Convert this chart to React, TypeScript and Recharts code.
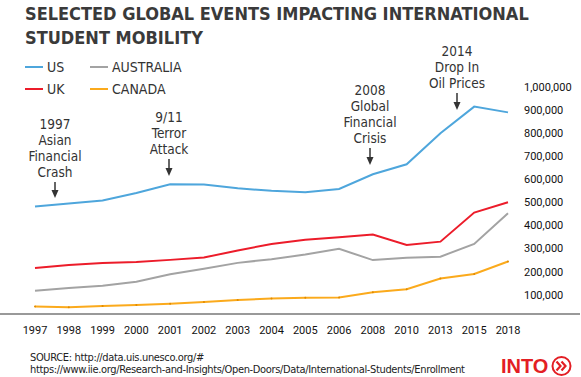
import React from "react";
import { LineChart, Line, XAxis, YAxis, Legend } from "recharts";

const years = ["1997", "1998", "1999", "2000", "2001", "2002", "2003", "2004", "2005", "2006", "2008", "2010", "2013", "2015", "2018"];
const usValues = [482000, 495000, 508000, 541000, 579000, 578000, 561000, 550000, 544000, 558000, 622000, 665000, 800000, 915000, 890000];
const ukValues = [216000, 229000, 237000, 242000, 251000, 261000, 292000, 320000, 338000, 349000, 361000, 316000, 330000, 456000, 501000];
const australiaValues = [117000, 129000, 139000, 156000, 189000, 213000, 238000, 254000, 274000, 299000, 250000, 260000, 265000, 320000, 453000];
const canadaValues = [49000, 46000, 51000, 55000, 61000, 68000, 77000, 84000, 87000, 88000, 111000, 124000, 170000, 190000, 244000];
const yTicks = [100000, 200000, 300000, 400000, 500000, 600000, 700000, 800000, 900000, 1000000];

const data = years.map((year, i) => ({
  year,
  us: usValues[i],
  uk: ukValues[i],
  australia: australiaValues[i],
  canada: canadaValues[i],
}));

const series = [
  { key: "us", name: "US", color: "#4ea6dc" },
  { key: "uk", name: "UK", color: "#ec1c2a" },
  { key: "australia", name: "AUSTRALIA", color: "#a3a3a3" },
  { key: "canada", name: "CANADA", color: "#fbaa1c" },
];

const events = [
  { lines: ["1997", "Asian", "Financial", "Crash"], x: 55, top: 124, arrowTop: 182, arrowBottom: 198 },
  { lines: ["9/11", "Terror", "Attack"], x: 169, top: 117, arrowTop: 159, arrowBottom: 176 },
  { lines: ["2008", "Global", "Financial", "Crisis"], x: 370, top: 90, arrowTop: 148, arrowBottom: 165 },
  { lines: ["2014", "Drop In", "Oil Prices"], x: 457, top: 51, arrowTop: 93, arrowBottom: 110 },
];

const NARROW = "'DejaVu Sans Condensed', 'DejaVu Sans', sans-serif";
const TEXT = "#333333";

function LegendBox({ payload }: any) {
  const items = series.map((s) => (payload || []).find((p: any) => p.value === s.name) || { value: s.name, color: s.color });
  return (
    <div
      style={{
        display: "grid",
        gridTemplateRows: "22px 22px",
        gridAutoFlow: "column",
        gridAutoColumns: "65px",
        fontFamily: NARROW,
        fontSize: 14,
        color: TEXT,
        whiteSpace: "nowrap",
      }}
    >
      {items.map((p: any) => (
        <div key={p.value} style={{ display: "flex", alignItems: "center" }}>
          <span style={{ width: 18, height: 2.5, flexShrink: 0, background: p.color, marginRight: 4 }} />
          <span>{p.value}</span>
        </div>
      ))}
    </div>
  );
}

function EventNotes() {
  return (
    <svg width={581} height={377} style={{ position: "absolute", left: 0, top: 0, pointerEvents: "none" }}>
      {events.map((e) => (
        <g key={e.lines[0]}>
          {e.lines.map((t, i) => (
            <text
              key={t}
              x={e.x}
              y={e.top + i * 16}
              textAnchor="middle"
              dominantBaseline="central"
              fontFamily={NARROW}
              fontSize={13.5}
              fill={TEXT}
            >
              {t}
            </text>
          ))}
          <line x1={e.x} x2={e.x} y1={e.arrowTop} y2={e.arrowBottom - 6} stroke={TEXT} strokeWidth={1.5} />
          <path d={`M${e.x - 3.5},${e.arrowBottom - 8} L${e.x + 3.5},${e.arrowBottom - 8} L${e.x},${e.arrowBottom} Z`} fill={TEXT} />
        </g>
      ))}
    </svg>
  );
}

function IntoLogo() {
  return (
    <svg width={80} height={30} style={{ position: "absolute", left: 500, top: 351 }}>
      <text x={1} y={22} fontFamily="'Liberation Sans', Arial, sans-serif" fontWeight={700} fontSize={20} fill="#e31e24">
        INTO
      </text>
      <circle cx={61.5} cy={15} r={9} fill="none" stroke="#e31e24" strokeWidth={2} />
      <path d="M56.5,10.5 L60.5,15 L56.5,19.5 M61.5,10.5 L65.5,15 L61.5,19.5" fill="none" stroke="#e31e24" strokeWidth={2.2} />
    </svg>
  );
}

export default function App() {
  return (
    <div style={{ position: "absolute", left: 0, top: 0, width: 581, height: 377, background: "#fff", overflow: "hidden" }}>
      <div
        style={{
          position: "absolute",
          left: 25,
          top: 2,
          fontFamily: NARROW,
          fontWeight: 700,
          fontSize: 18,
          lineHeight: "24px",
          color: "#3a3a3a",
          whiteSpace: "nowrap",
        }}
      >
        SELECTED GLOBAL EVENTS IMPACTING INTERNATIONAL
        <br />
        STUDENT MOBILITY
      </div>

      <LineChart width={581} height={377} data={data} margin={{ top: 87, right: 0, bottom: 33, left: 0 }}>
        <XAxis
          dataKey="year"
          scale="point"
          padding={{ left: 35, right: 0 }}
          axisLine={false}
          tickLine={false}
          tickSize={0}
          tickMargin={12}
          interval={0}
          height={30}
          tick={{ fontSize: 11, fill: "#111", fontFamily: "Roboto" }}
        />
        <YAxis
          type="number"
          orientation="right"
          width={73}
          domain={[16500, 1000000]}
          ticks={yTicks}
          allowDataOverflow
          axisLine={false}
          tickLine={false}
          tickSize={0}
          tickMargin={16}
          tickFormatter={(v: number) => v.toLocaleString("en-US")}
          tick={{ fontSize: 11, fill: "#111", fontFamily: "Roboto" }}
        />
        <Legend
          layout="horizontal"
          verticalAlign="middle"
          align="center"
          content={<LegendBox />}
          wrapperStyle={{ top: 56, left: 25, width: 200 }}
        />
        {series.map((s) => (
          <Line
            key={s.key}
            type="linear"
            dataKey={s.key}
            name={s.name}
            stroke={s.color}
            strokeWidth={2}
            dot={s.key === "canada" ? { r: 1, fill: "#e08a00", stroke: "none" } : false}
            activeDot={false}
            isAnimationActive={false}
          />
        ))}
      </LineChart>

      <div style={{ position: "absolute", left: 0, top: 313, width: 580, height: 2, background: "#999" }} />

      <EventNotes />

      <div
        style={{
          position: "absolute",
          left: 30,
          top: 352,
          fontFamily: NARROW,
          fontSize: 11,
          letterSpacing: "-0.35px",
          lineHeight: "12px",
          color: "#222",
          whiteSpace: "nowrap",
        }}
      >
        SOURCE: http://data.uis.unesco.org/#
        <br />
        https://www.iie.org/Research-and-Insights/Open-Doors/Data/International-Students/Enrollment
      </div>

      <IntoLogo />
    </div>
  );
}
